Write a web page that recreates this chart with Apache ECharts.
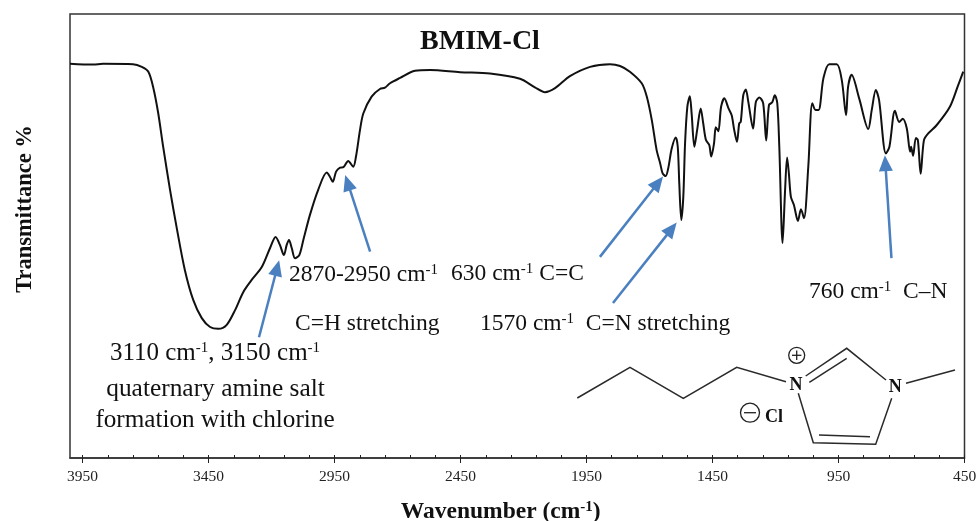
<!DOCTYPE html>
<html><head><meta charset="utf-8">
<style>html,body{margin:0;padding:0;background:#fff}#c{width:976px;height:521px}</style>
<script src="https://cdn.jsdelivr.net/npm/echarts@6/dist/echarts.min.js"></script>
</head><body><div id="c"></div>
<script>
const wavenumber = [4000,3908,3869,3750,3715,3689,3669,3650,3630,3603,3577,3544,3511,3477,3444,3411,3378,3345,3312,3279,3239,3206,3184,3167,3151,3140,3131,3120,3107,3090,3074,3048,3015,2981,2968,2957,2944,2928,2915,2896,2876,2865,2849,2836,2803,2770,2750,2730,2690,2631,2571,2452,2333,2214,2155,2115,2075,2016,1936,1857,1817,1778,1731,1711,1691,1672,1658,1648,1636,1626,1612,1596,1588,1582,1574,1566,1559,1550,1540,1533,1522,1511,1497,1487,1476,1463,1455,1444,1437,1427,1416,1403,1387,1374,1364,1353,1344,1338,1328,1318,1308,1289,1278,1264,1249,1237,1226,1213,1203,1193,1185,1172,1162,1154,1147,1139,1127,1111,1099,1087,1070,1054,1041,1029,1010,987,957,937,920,912,898,868,832,818,802,789,762,748,726,709,695,679,666,662,654,643,635,624,611,594,560,508,475,455];
const transmittance = [88.8,88.6,88.8,88.7,88.1,87.0,83.3,77.7,70.0,60.4,52.0,42.3,35.6,31.5,29.5,29.1,30.0,33.3,37.4,40.1,43.0,47.3,49.8,48.0,45.7,48.0,49.1,47.3,45.0,45.7,49.1,54.7,60.4,64.3,63.3,62.2,64.5,65.4,65.5,66.9,65.6,67.9,73.9,77.6,81.4,83.1,83.4,84.4,85.6,87.2,87.4,86.9,86.6,85.4,83.5,82.4,83.3,86.0,88.1,88.7,88.3,87.0,84.4,81.4,76.1,69.4,66.4,64.1,63.5,65.2,69.7,72.2,70.1,61.9,53.6,58.8,70.9,79.1,81.5,77.6,70.1,73.9,78.7,75.4,71.6,70.5,67.9,70.9,74.5,73.6,79.1,81.0,78.8,77.2,73.9,71.2,75.4,75.7,81.7,83.0,80.2,74.2,80.2,81.2,79.9,71.5,79.5,80.1,81.7,79.9,70.1,48.4,60.4,67.7,64.1,58.8,57.0,53.4,56.0,54.0,65.6,79.9,78.4,78.4,85.5,88.7,88.7,85.1,77.2,83.6,86.3,81.0,74.1,78.4,82.9,80.6,68.6,70.1,78.2,75.7,76.4,74.2,69.0,70.1,68.1,72.1,71.6,64.0,71.6,73.1,75.0,79.1,84.0,87.0];
const majorTicks = [3950,3450,2950,2450,1950,1450,950,450];
const minorTicks = [3950,3850,3750,3650,3550,3450,3350,3250,3150,3050,2950,2850,2750,2650,2550,2450,2350,2250,2150,2050,1950,1850,1750,1650,1550,1450,1350,1250,1150,1050,950,850,750,650,550,450];
const arrowTails = [[3250,27.2],[2809,46.5],[1897,45.3],[1845,34.9],[740,45.0]];
const arrowTips  = [[3178,42.8],[2898,62.0],[1666,62.0],[1612,51.6],[764,66.4]];
const title = 'BMIM-Cl';
const xName = 'Wavenumber (cm{s|-1})';
const yName = 'Transmittance %';
const notes = [
  ['3110 cm{s|-1}, 3150 cm{s|-1}',215,353,'center',25],
  ['quaternary amine salt',215.5,389,'center',25.4],
  ['formation with chlorine',215,420,'center',25.2],
  ['2870-2950 cm{s|-1}',289,275,'left',23.5],
  ['630 cm{s|-1} C=C',451,274,'left',23.5],
  ['C=H stretching',295,324,'left',23.5],
  ['1570 cm{s|-1}  C=N stretching',480,324,'left',23.5],
  ['760 cm{s|-1}  C\u2013N',809,292,'left',23.5]
];
const SERIF = '"Liberation Serif","Times New Roman",serif';
const sup = {s:{fontSize:15,fontFamily:SERIF,fill:'#111',color:'#111',verticalAlign:'top',padding:[0,0,7,0]}};
const gfx = [];
gfx.push({type:'text',x:480,y:42,style:{text:title,fontFamily:SERIF,fontWeight:'bold',fontSize:28,fill:'#111',textAlign:'center',textVerticalAlign:'middle'}});
notes.forEach(n=>gfx.push({type:'text',x:n[1],y:n[2],style:{text:n[0],rich:sup,fontFamily:SERIF,fontSize:n[4],fill:'#111',textAlign:n[3],textVerticalAlign:'middle'}}));
const bonds = [
  [[577.3,398],[630,367.3],[683.3,398.3],[736.7,367.3],[786,381.7]],
  [[805.7,376],[846.7,348.3],[886,380]],
  [[809.3,382.3],[846.7,358.3]],
  [[906,383.3],[955,370]],
  [[798.3,393.3],[813.3,442.7],[875.7,444.3],[891.7,398.3]],
  [[819,435],[870,436.7]]
];
bonds.forEach(p=>gfx.push({type:'polyline',shape:{points:p},style:{stroke:'#2a2a2a',lineWidth:1.5,fill:null}}));
[[796.7,355.3,8],[750,412.7,9.5]].forEach(c=>gfx.push({type:'circle',shape:{cx:c[0],cy:c[1],r:c[2]},style:{stroke:'#222',lineWidth:1.3,fill:'none'}}));
[[792,355.3,801.4,355.3],[796.7,350.6,796.7,360],[744,412.7,756,412.7]].forEach(l=>gfx.push({type:'line',shape:{x1:l[0],y1:l[1],x2:l[2],y2:l[3]},style:{stroke:'#222',lineWidth:1.3}}));
[['N',796,385,18],['N',895.3,387,18],['Cl',774,417,18]].forEach(t=>gfx.push({type:'text',x:t[1],y:t[2],style:{text:t[0],fontFamily:SERIF,fontWeight:'bold',fontSize:t[3],fill:'#111',textAlign:'center',textVerticalAlign:'middle'}}));

const chart = echarts.init(document.getElementById('c'),null,{renderer:'canvas'});
chart.setOption({
  animation:false,
  backgroundColor:'#fff',
  grid:{left:70,right:11.5,top:14,bottom:63,outerBoundsMode:'none',containLabel:false,show:true,borderColor:'#333',borderWidth:1.5,backgroundColor:'transparent'},
  xAxis:[{
    type:'value',inverse:true,min:450,max:4000,position:'bottom',
    name:xName,nameLocation:'middle',nameGap:42,
    nameTextStyle:{fontFamily:SERIF,fontWeight:'bold',fontSize:23.5,color:'#111',padding:[0,33,0,0],rich:{s:{fontSize:15,fontWeight:'bold',fontFamily:SERIF,color:'#111',verticalAlign:'top',padding:[0,0,7,0]}}},
    splitLine:{show:false},
    axisLine:{onZero:false,lineStyle:{color:'#333',width:1.5}},
    axisTick:{show:true,inside:false,length:5,lineStyle:{color:'#222',width:1},customValues:majorTicks},
    axisLabel:{show:true,margin:11,fontFamily:SERIF,fontSize:15.5,color:'#222',customValues:majorTicks,hideOverlap:false,showMinLabel:true,showMaxLabel:true,formatter:v=>String(v)}
  },{
    type:'value',inverse:true,min:450,max:4000,position:'bottom',
    splitLine:{show:false},
    axisLine:{show:false,onZero:false},
    axisTick:{show:true,inside:true,length:3,lineStyle:{color:'#222',width:1},customValues:minorTicks},
    axisLabel:{show:false}
  }],
  yAxis:{
    type:'value',min:0,max:100,
    name:yName,nameLocation:'middle',nameGap:33,
    nameTextStyle:{fontFamily:SERIF,fontWeight:'bold',fontSize:22.5,color:'#111',padding:[0,0,0,54]},
    splitLine:{show:false},axisLine:{show:false},axisTick:{show:false},axisLabel:{show:false}
  },
  series:[{
    type:'line',xAxisIndex:0,data:wavenumber.map((w,i)=>[w,transmittance[i]]),
    showSymbol:false,smooth:0.3,smoothMonotone:'none',
    lineStyle:{color:'#111',width:2},
    clip:true,
    markLine:{
      silent:true,animation:false,symbol:['none','triangle'],symbolSize:[14,16],precision:2,
      label:{show:false},
      lineStyle:{color:'#4a80c0',width:2.5,type:'solid'},
      data:arrowTails.map((t,i)=>[{coord:t},{coord:arrowTips[i]}])
    }
  }],
  graphic:gfx
});
</script></body></html>
